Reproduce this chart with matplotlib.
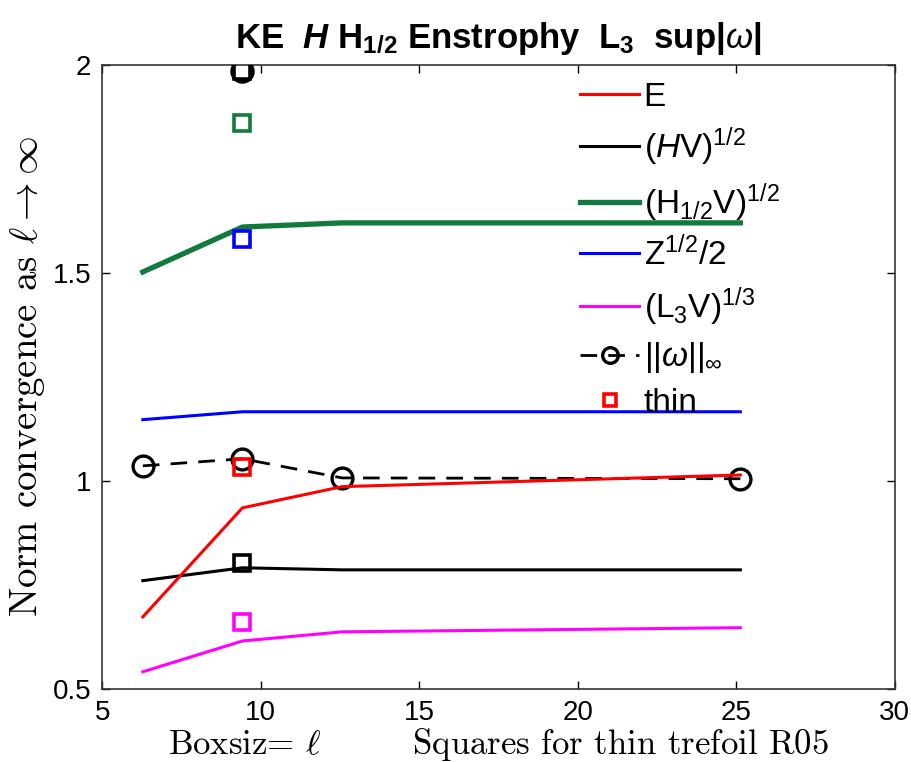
import matplotlib
matplotlib.use("Agg")
import matplotlib.pyplot as plt
from matplotlib.ticker import FormatStrFormatter
import numpy as np

plt.rcParams.update({
    "font.family": ["Liberation Sans", "DejaVu Sans"],
    "mathtext.fontset": "custom",
    "mathtext.rm": "Liberation Sans",
    "mathtext.it": "Liberation Sans:italic",
    "mathtext.bf": "Liberation Sans:bold",
    "mathtext.bfit": "Liberation Sans:bold:italic",
})

# box sizes l = 2pi, 3pi, 4pi, 8pi
ell = np.array([2, 3, 4, 8]) * np.pi
ell_thin = 3 * np.pi

ke = [0.673, 0.935, 0.986, 1.014]
helic = [0.760, 0.791, 0.786, 0.786]
h_half = [1.502, 1.610, 1.620, 1.620]
enstr = [1.147, 1.166, 1.166, 1.166]
l3 = [0.541, 0.615, 0.637, 0.647]
supw = [1.036, 1.053, 1.007, 1.005]

# thin trefoil values at l = 3pi
thin_ke = 1.034
thin_helic = 0.803
thin_h_half = 1.86
thin_enstr = 1.582
thin_l3 = 0.661
thin_supw = 1.985

green = "#117a3c"

fig = plt.figure(figsize=(9.12, 7.62), dpi=100)
ax = fig.add_axes([0.112, 0.096, 0.869, 0.819])

ax.plot(ell, supw, "k--", lw=2, dashes=(6, 4), marker="o", ms=15, mew=2.4,
        mfc="none", label=r"$||\omega||_\infty$", zorder=2)
ax.plot(ell, ke, color="red", lw=2.2, label="E", zorder=3)
ax.plot(ell, helic, color="black", lw=2.2, label=r"$(\mathit{H}\mathrm{V})^{1/2}$")
ax.plot(ell, h_half, color=green, lw=3.8, label=r"$(\mathrm{H}_{1/2}\mathrm{V})^{1/2}$")
ax.plot(ell, enstr, color="blue", lw=2.2, label=r"$\mathrm{Z}^{1/2}/2$")
ax.plot(ell, l3, color="magenta", lw=2.2, label=r"$(\mathrm{L}_3\mathrm{V})^{1/3}$")

sq = dict(marker="s", ms=11, mew=2.6, mfc="none", ls="none", zorder=4)
ax.plot(ell_thin, thin_ke, mec="red", label="thin", **sq)
ax.plot(ell_thin, thin_helic, mec="black", **sq)
ax.plot(ell_thin, thin_h_half, mec=green, **sq)
ax.plot(ell_thin, thin_enstr, mec="blue", **sq)
ax.plot(ell_thin, thin_l3, mec="magenta", **sq)
ax.plot(ell_thin, thin_supw, mec="black", **sq)
ax.plot(ell_thin, thin_supw, marker="o", ms=15, mew=2.6, mfc="none", mec="black", ls="none", zorder=4)

ax.set_xlim(5, 30)
ax.set_ylim(0.5, 2)
ax.set_xticks([5, 10, 15, 20, 25, 30])
ax.set_yticks([0.5, 1, 1.5, 2])
ax.yaxis.set_major_formatter(FormatStrFormatter("%g"))
ax.tick_params(direction="in", length=6, width=1, top=True, right=True, labelsize=20, pad=8)
for s in ax.spines.values():
    s.set_linewidth(1.2)
    s.set_color("#333333")

ax.set_title(r"KE  $\mathbfit{H}$ H$_\mathbf{1/2}$ Enstrophy  L$_\mathbf{3}$  sup|$\omega$|",
             fontsize=25, fontweight="bold", pad=12)
ax.set_xlabel(r"Boxsiz= $\ell$        Squares for thin trefoil R05", family="cmr10",
              math_fontfamily="cm", fontsize=25, labelpad=0)
ax.set_ylabel(r"Norm convergence as $\ell\rightarrow\infty$", family="cmr10",
              math_fontfamily="cm", fontsize=28, labelpad=4)

h, l = ax.get_legend_handles_labels()
order = [1, 2, 3, 4, 5, 0, 6]
ax.legend([h[i] for i in order], [l[i] for i in order], loc="upper right",
          bbox_to_anchor=(0.88, 1.005), frameon=False, fontsize=24, handlelength=1.75,
          handletextpad=0.15, labelspacing=0.38, markerscale=0.75, numpoints=1,
          borderaxespad=0.2)

fig.savefig("out.png", dpi=100)
